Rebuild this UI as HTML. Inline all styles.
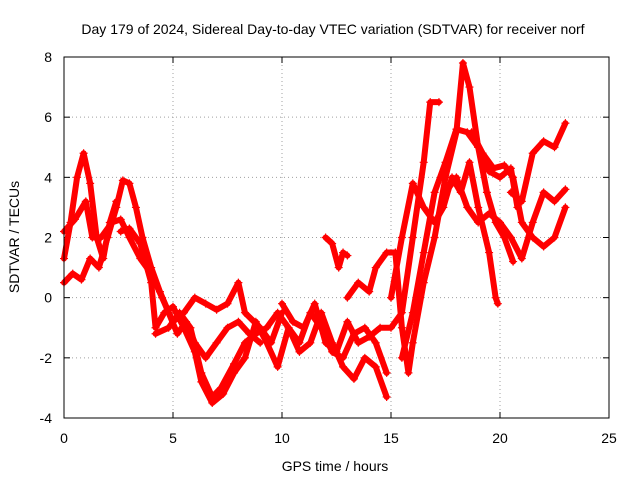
<!DOCTYPE html>
<html><head><meta charset="utf-8"><style>
body{margin:0;background:#fff}
svg text{font-family:"Liberation Sans",sans-serif;font-size:14px;fill:#000}
</style></head><body>
<svg width="640" height="480" xmlns="http://www.w3.org/2000/svg">
<rect width="640" height="480" fill="#fff"/>
<text x="333" y="34" text-anchor="middle">Day 179 of 2024, Sidereal Day-to-day VTEC variation (SDTVAR) for receiver norf</text>
<g id="grid"></g>
<g id="axes"></g>
<g id="series"></g>
<rect x="64" y="57" width="545" height="361" fill="none" stroke="#000"/>
<text x="335" y="471" text-anchor="middle">GPS time / hours</text>
<text transform="translate(19,237) rotate(-90)" text-anchor="middle">SDTVAR / TECUs</text>
</svg>
<script>
const xTicks=[0,5,10,15,20,25];
const yTicks=[-4,-2,0,2,4,6,8];
const t1=[[0,1.3],[0.3,2.5],[0.6,4],[0.9,4.8],[1.2,3.8],[1.5,2],[1.8,1.3],[2.1,2.5],[2.4,3.2]];
const t2=[[0,0.5],[0.4,0.8],[0.8,0.6],[1.2,1.3],[1.6,1.0],[2.0,2.0],[2.4,3.0],[2.7,3.9],[3.0,3.8],[3.3,3.0],[3.6,2.0],[4.0,1.0],[4.4,0.2],[4.8,-0.5],[5.2,-1.2],[5.6,-0.8],[6.0,-1.5],[6.5,-2.0],[7.0,-1.5],[7.5,-1.0],[8.0,-0.8],[8.5,-1.2],[9.0,-1.5]];
const t3=[[0,2.2],[0.5,2.6],[1.0,3.2],[1.3,2.0],[1.7,2.0],[2.2,2.5],[2.6,2.6],[3.0,2.0],[3.5,1.3],[4.0,0.8],[4.5,0],[5.0,-0.8],[5.5,-0.5],[6.0,0],[6.5,-0.2],[7.0,-0.4],[7.5,-0.2],[8.0,0.5],[8.3,-0.5],[9.0,-1.0],[9.5,-1.5],[10.0,-0.5]];
const t4=[[2.6,2.2],[3.0,2.3],[3.5,1.8],[4.0,0.5],[4.2,-1.0],[4.6,-0.5],[5.0,-0.3],[5.5,-1.0],[6.0,-1.8],[6.3,-2.8],[6.8,-3.5],[7.3,-3.2],[7.8,-2.5],[8.3,-2.0],[8.8,-0.8],[9.3,-1.5],[9.8,-2.3],[10.3,-1.0],[10.8,-1.5],[11.3,-0.5],[11.8,-1.0],[12.3,-1.8],[12.8,-2.0],[13.3,-1.2],[13.8,-1.0],[14.3,-1.5],[14.8,-2.5]];
const t5=[[4.2,-1.2],[4.8,-1.0],[5.3,-0.5],[5.8,-1.0],[6.3,-2.5],[6.8,-3.3],[7.2,-3.0],[7.8,-2.2],[8.3,-1.5],[8.8,-1.2],[9.3,-1.0],[9.8,-0.5],[10.3,-1.0],[10.8,-1.8],[11.3,-1.5],[11.8,-0.5],[12.3,-1.5],[12.8,-2.3],[13.3,-2.7],[13.8,-2.0],[14.3,-2.3],[14.8,-3.3]];
const t6=[[10.0,-0.2],[10.5,-0.8],[11.0,-1.0],[11.5,-0.2],[12.0,-1.5],[12.5,-1.8],[13.0,-0.8],[13.5,-1.5],[14.0,-1.3],[14.5,-1.0],[15.0,-1.0],[15.5,-0.5],[16.0,2.0],[16.5,4.5],[16.8,6.5],[17.2,6.5]];
const t7=[[12.0,2.0],[12.3,1.8],[12.6,1.0],[12.8,1.5],[13.0,1.4]];
const t8=[[13.0,0],[13.5,0.5],[14.0,0.2],[14.3,1.0],[14.8,1.5],[15.2,1.5],[15.5,-1.0],[15.8,-2.5],[16.0,-1.5],[16.5,0.5],[17.0,2.0],[17.5,4.0],[18.0,5.5],[18.3,7.8],[18.6,7.0],[19.0,5.0],[19.4,3.5],[19.8,2.5],[20.2,2.0],[20.6,1.2]];
const t9=[[15.5,-2.0],[16.0,-0.5],[16.5,1.5],[17.0,3.5],[17.5,4.5],[18.0,5.6],[18.5,5.5],[19.0,5.0],[19.5,4.2],[20.0,4.0],[20.5,4.3],[20.8,3.0]];
const t10=[[15.0,0],[15.5,2.0],[16.0,3.8],[16.5,3.0],[17.0,2.5],[17.4,3.0],[17.8,4.0],[18.2,3.5],[18.6,4.5],[19.0,3.0],[19.5,1.5],[19.8,0],[19.9,-0.2]];
const t11=[[17.5,3.5],[18.0,4.0],[18.5,3.0],[19.0,2.5],[19.5,2.8],[20.0,2.5],[20.5,2.0],[21.0,1.3],[21.5,2.5],[22.0,3.5],[22.5,3.2],[23.0,3.6]];
const t12=[[18.7,5.5],[19.2,4.8],[19.7,4.3],[20.2,4.4],[20.6,4.0],[21.0,2.5],[21.5,2.0],[22.0,1.7],[22.5,2.0],[23.0,3.0]];
const t13=[[20.5,3.5],[21.0,3.2],[21.5,4.8],[22.0,5.2],[22.5,5.0],[23.0,5.8]];
const tracks=[t1,t2,t3,t4,t5,t6,t7,t8,t9,t10,t11,t12,t13];

const NS="http://www.w3.org/2000/svg";
const X0=64,X1=609,Y0=418,Y1=57;
function sx(v){return X0+(v-0)/(25-0)*(X1-X0);}
function sy(v){return Y0-(v-(-4))/(8-(-4))*(Y0-Y1);}
function mk(tag,attrs,parent){const e=document.createElementNS(NS,tag);for(const k in attrs)e.setAttribute(k,attrs[k]);parent.appendChild(e);return e;}
const grid=document.getElementById('grid'),axes=document.getElementById('axes'),ser=document.getElementById('series');
xTicks.forEach(t=>{
  const x=sx(t);
  if(t>0&&t<25){const g=mk('line',{x1:x,x2:x,y1:Y0,y2:Y1,stroke:'#a0a0a0','stroke-dasharray':'1,3'},grid);
  
  }
  mk('line',{x1:x,x2:x,y1:Y0,y2:Y0-6,stroke:'#000'},axes);
  mk('line',{x1:x,x2:x,y1:Y1,y2:Y1+6,stroke:'#000'},axes);
  const l=mk('text',{x:x,y:443,'text-anchor':'middle'},axes);l.textContent=t;
  
  
});
yTicks.forEach(t=>{
  const y=sy(t);
  if(t>-4&&t<8){const g=mk('line',{x1:X0,x2:X1,y1:y,y2:y,stroke:'#a0a0a0','stroke-dasharray':'1,3'},grid);
  
  }
  mk('line',{x1:X0,x2:X0+6,y1:y,y2:y,stroke:'#000'},axes);
  mk('line',{x1:X1,x2:X1-6,y1:y,y2:y,stroke:'#000'},axes);
  const l=mk('text',{x:52,y:y+5,'text-anchor':'end'},axes);l.textContent=t;
  
  
});
tracks.forEach((tr,i)=>{
  const p=mk('polyline',{points:tr.map(d=>sx(d[0])+','+sy(d[1])).join(' '),fill:'none',stroke:'#f00','stroke-width':6,'stroke-linejoin':'round','stroke-linecap':'round'},ser);
  
  
  tr.forEach(d=>{
    const m=mk('path',{d:`M${sx(d[0])-4},${sy(d[1])}h8M${sx(d[0])},${sy(d[1])-4}v8`,stroke:'#f00','stroke-width':1.2},ser);
    
    
  });
});
</script>
</body></html>
